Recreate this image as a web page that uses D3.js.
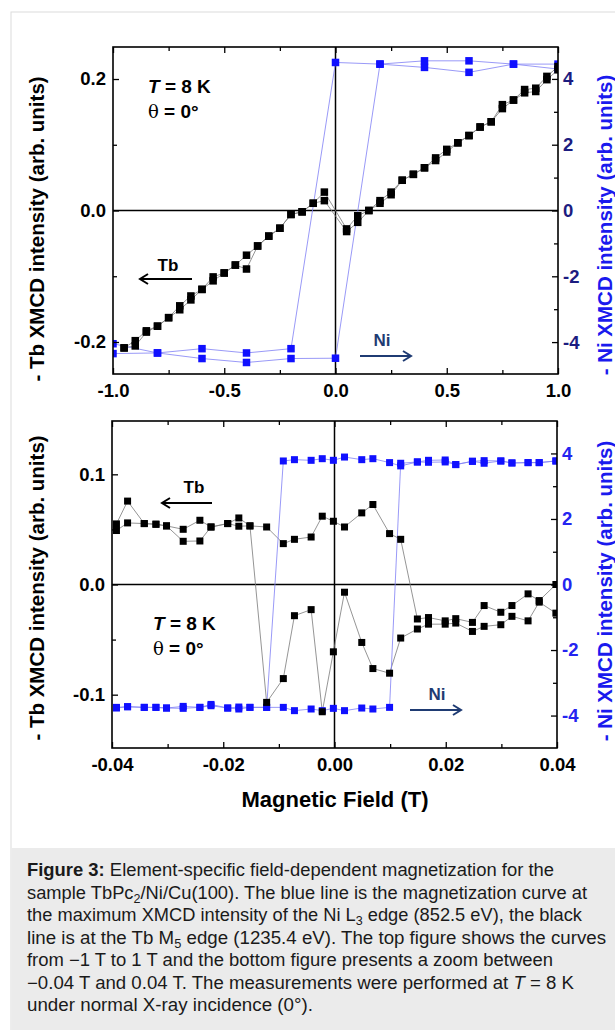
<!DOCTYPE html>
<html><head><meta charset="utf-8">
<script src="https://cdn.jsdelivr.net/npm/d3@7"></script>
<style>
body{margin:0;background:#fff;}
svg{display:block;font-family:"Liberation Sans",Arial,sans-serif;}
</style></head><body>
<svg id="c" width="615" height="1030"></svg>
<script>
// ---------- TOP PANEL DATA (field in T) ----------
const tbTopDownField = [1.0,0.95,0.9,0.85,0.8,0.75,0.7,0.65,0.6,0.55,0.5,0.45,0.4,0.35,0.3,0.25,0.2,0.15,0.1,0.05,-0.05,-0.1,-0.15,-0.2,-0.25,-0.3,-0.35,-0.4,-0.45,-0.5,-0.55,-0.6,-0.65,-0.7,-0.75,-0.8,-0.85,-0.9,-0.95];
const tbTopDown = [0.214,0.199,0.181,0.179,0.168,0.155,0.135,0.127,0.114,0.103,0.089,0.076,0.065,0.055,0.046,0.024,0.011,0.000,-0.008,-0.028,0.028,0.011,-0.002,-0.006,-0.027,-0.039,-0.054,-0.068,-0.083,-0.095,-0.101,-0.120,-0.130,-0.145,-0.163,-0.176,-0.183,-0.198,-0.209];
const tbTopUpField = [-0.95,-0.9,-0.85,-0.8,-0.75,-0.7,-0.65,-0.6,-0.55,-0.5,-0.45,-0.4,-0.35,-0.3,-0.25,-0.2,-0.15,-0.1,-0.05,0.05,0.1,0.15,0.2,0.25,0.3,0.35,0.4,0.45,0.5,0.55,0.6,0.65,0.7,0.75,0.8,0.85,0.9,0.95,1.0];
const tbTopUp = [-0.209,-0.206,-0.185,-0.176,-0.163,-0.151,-0.136,-0.120,-0.107,-0.095,-0.083,-0.089,-0.054,-0.039,-0.027,-0.006,-0.002,0.011,0.015,-0.032,-0.018,0.000,0.015,0.028,0.046,0.055,0.065,0.080,0.093,0.103,0.114,0.127,0.135,0.161,0.168,0.184,0.186,0.204,0.219];
const niTopDownField = [1.0,0.8,0.6,0.4,0.2,0.0,-0.2,-0.4,-0.6,-0.8,-1.0];
const niTopDown = [4.3,4.45,4.2,4.35,4.45,-4.49,-4.5,-4.62,-4.5,-4.33,-4.35];
const niTopUpField = [-1.0,-0.8,-0.6,-0.4,-0.2,0.0,0.2,0.4,0.6,0.8,1.0];
const niTopUp = [-4.05,-4.33,-4.2,-4.33,-4.2,4.5,4.45,4.55,4.55,4.45,4.45];

// ---------- BOTTOM PANEL DATA ----------
const botField = [-0.0392,-0.0372,-0.0342,-0.0321,-0.0302,-0.0272,-0.0242,-0.0222,-0.0192,-0.0172,-0.0152,-0.0122,-0.0092,-0.0072,-0.0042,-0.0022,-0.0002,0.0018,0.0049,0.0069,0.0099,0.0119,0.0149,0.0169,0.0199,0.0218,0.0248,0.0269,0.0299,0.0319,0.0348,0.0368,0.0398];
const tbBotUp = [0.049,0.0559,0.0553,0.0547,0.0532,0.0392,0.0395,0.0522,0.0553,0.0529,0.0532,0.0522,0.0371,0.041,0.0431,0.062,0.0574,0.0522,0.065,0.0726,0.0462,0.041,-0.0313,-0.030,-0.033,-0.031,-0.0344,-0.0191,-0.0252,-0.0191,-0.0085,-0.0146,0.0];
const tbBotDown = [0.055,0.0757,0.0553,0.0547,0.0532,0.0501,0.0583,0.0522,0.0553,0.0604,0.0532,-0.107,-0.0854,-0.0283,-0.0228,-0.1155,-0.0611,-0.007,-0.0526,-0.0763,-0.0805,-0.0486,-0.0404,-0.036,-0.036,-0.035,-0.0426,-0.038,-0.0365,-0.0289,-0.033,-0.016,-0.026];
const niBotUp = [-3.75,-3.73,-3.75,-3.75,-3.77,-3.72,-3.75,-3.66,-3.77,-3.74,-3.75,-3.75,3.77,3.81,3.79,3.84,3.79,3.89,3.81,3.84,3.72,3.62,3.74,3.79,3.80,3.66,3.76,3.78,3.77,3.71,3.72,3.72,3.77];
const niBotDown = [-3.77,-3.73,-3.75,-3.75,-3.77,-3.78,-3.75,-3.70,-3.77,-3.80,-3.75,-3.75,-3.75,-3.85,-3.80,-3.85,-3.78,-3.85,-3.77,-3.80,-3.75,3.70,3.74,3.73,3.74,3.66,3.76,3.70,3.77,3.71,3.72,3.72,3.77];

// ---------- TICKS ----------
const topXMajor = [-1,-0.5,0,0.5,1], topXLabels = ["-1.0","-0.5","0.0","0.5","1.0"], topXMinor = [-0.75,-0.25,0.25,0.75];
const topYLMajor = [-0.2,0,0.2], topYLLabels = ["-0.2","0.0","0.2"], topYLMinor = [-0.1,0.1];
const botXMajor = [-0.04,-0.02,0,0.02,0.04], botXLabels = ["-0.04","-0.02","0.00","0.02","0.04"], botXMinor = [-0.03,-0.01,0.01,0.03];
const botYLMajor = [-0.1,0,0.1], botYLLabels = ["-0.1","0.0","0.1"], botYLMinor = [-0.05,0.05];
const yRMajor = [-4,-2,0,2,4], yRLabels = ["-4","-2","0","2","4"], yRMinor = [-3,-1,1,3];

const captionLines = [
 [{t:"Figure 3:",b:1},{t:" Element-specific field-dependent magnetization for the"}],
 [{t:"sample TbPc"},{t:"2",sub:1},{t:"/Ni/Cu(100). The blue line is the magnetization curve at"}],
 [{t:"the maximum XMCD intensity of the Ni L"},{t:"3",sub:1},{t:" edge (852.5 eV), the black"}],
 [{t:"line is at the Tb M"},{t:"5",sub:1},{t:" edge (1235.4 eV). The top figure shows the curves"}],
 [{t:"from \u22121 T to 1 T and the bottom figure presents a zoom between"}],
 [{t:"\u22120.04 T and 0.04 T. The measurements were performed at "},{t:"T",i:1},{t:" = 8 K"}],
 [{t:"under normal X-ray incidence (0\u00b0)."}]
];
const captionWidths = [527, 560, 555, 579, 526, 547, 286];

const svg = d3.select("#c");
// page frame and caption box
svg.append("rect").attr("x",11).attr("y",12).attr("width",620).attr("height",1040).attr("fill","#fff").attr("stroke","#dcdcdc");
svg.append("rect").attr("x",11.5).attr("y",848).attr("width",604).attr("height",190).attr("fill","#ebebeb");

const pair = (xs, ys) => xs.map((x,i)=>[x, ys[i]]);

function panel(cfg){
  const g = svg.append("g");
  const x = d3.scaleLinear().domain(cfg.xDom).range([cfg.x0, cfg.x1]);
  const yL = d3.scaleLinear().domain(cfg.yLDom).range([cfg.y1, cfg.y0]);
  const yR = d3.scaleLinear().domain(cfg.yRDom).range([cfg.y1, cfg.y0]);
  const id = "clip"+cfg.name;
  svg.append("clipPath").attr("id",id).append("rect").attr("x",cfg.x0).attr("y",cfg.y0).attr("width",cfg.x1-cfg.x0).attr("height",cfg.y1-cfg.y0);

  // zero lines
  g.append("line").attr("x1",cfg.x0).attr("x2",cfg.x1).attr("y1",yL(0)).attr("y2",yL(0)).attr("stroke","#000").attr("stroke-width",1.5);
  g.append("line").attr("x1",x(0)).attr("x2",x(0)).attr("y1",cfg.y0).attr("y2",cfg.y1).attr("stroke","#000").attr("stroke-width",1.5);

  const data = g.append("g").attr("clip-path",`url(#${id})`);
  const lineL = d3.line().x(d=>x(d[0])).y(d=>yL(d[1]));
  const lineR = d3.line().x(d=>x(d[0])).y(d=>yR(d[1]));
  cfg.tb.forEach(s=>data.append("path").attr("d",lineL(s)).attr("fill","none").attr("stroke","#7a7a7a").attr("stroke-width",0.8));
  cfg.ni.forEach(s=>data.append("path").attr("d",lineR(s)).attr("fill","none").attr("stroke","#7f7ff5").attr("stroke-width",0.8));
  const ms = cfg.ms;
  cfg.ni.forEach(s=>data.selectAll(null).data(s).enter().append("rect")
    .attr("x",d=>x(d[0])-ms/2).attr("y",d=>yR(d[1])-ms/2).attr("width",ms).attr("height",ms).attr("fill","#1010ff"));
  cfg.tb.forEach(s=>data.selectAll(null).data(s).enter().append("rect")
    .attr("x",d=>x(d[0])-ms/2).attr("y",d=>yL(d[1])-ms/2).attr("width",ms).attr("height",ms).attr("fill","#000"));

  // axes
  const fs = "18.5px";
  const styleAx = (sel)=>{ sel.select(".domain").remove(); sel.selectAll("line").attr("stroke","#000").attr("stroke-width",1.3); sel.selectAll("text").attr("font-size",fs).attr("font-weight","bold").attr("font-family","'Liberation Sans',Arial,sans-serif"); };
  const bx = g.append("g").attr("transform",`translate(0,${cfg.y1})`)
    .call(d3.axisBottom(x).tickValues(cfg.xMajor).tickSize(-6).tickPadding(10).tickFormat((d,i)=>cfg.xLabels[i]));
  styleAx(bx); bx.selectAll("text").attr("fill","#000");
  const bxm = g.append("g").attr("transform",`translate(0,${cfg.y1})`).call(d3.axisBottom(x).tickValues(cfg.xMinor).tickSize(-4).tickFormat(""));
  styleAx(bxm);
  const tx = g.append("g").attr("transform",`translate(0,${cfg.y0})`).call(d3.axisTop(x).tickValues(cfg.xMajor).tickSize(-6).tickFormat(""));
  styleAx(tx);
  const txm = g.append("g").attr("transform",`translate(0,${cfg.y0})`).call(d3.axisTop(x).tickValues(cfg.xMinor).tickSize(-4).tickFormat(""));
  styleAx(txm);
  const ly = g.append("g").attr("transform",`translate(${cfg.x0},0)`)
    .call(d3.axisLeft(yL).tickValues(cfg.yLMajor).tickSize(-6).tickPadding(7).tickFormat((d,i)=>cfg.yLLabels[i]));
  styleAx(ly); ly.selectAll("text").attr("fill","#000");
  const lym = g.append("g").attr("transform",`translate(${cfg.x0},0)`).call(d3.axisLeft(yL).tickValues(cfg.yLMinor).tickSize(-4).tickFormat(""));
  styleAx(lym);
  const ry = g.append("g").attr("transform",`translate(${cfg.x1},0)`)
    .call(d3.axisRight(yR).tickValues(yRMajor).tickSize(-6).tickPadding(5).tickFormat((d,i)=>yRLabels[i]));
  styleAx(ry); ry.selectAll("text").attr("fill",cfg.rColor);
  const rym = g.append("g").attr("transform",`translate(${cfg.x1},0)`).call(d3.axisRight(yR).tickValues(yRMinor).tickSize(-4).tickFormat(""));
  styleAx(rym);

  // frame
  g.append("rect").attr("x",cfg.x0).attr("y",cfg.y0).attr("width",cfg.x1-cfg.x0).attr("height",cfg.y1-cfg.y0).attr("fill","none").attr("stroke","#000").attr("stroke-width",1.6);

  // axis titles
  g.append("text").attr("transform",`translate(43.5,${cfg.tLy}) rotate(-90)`).attr("text-anchor","middle")
    .attr("font-size","20.5px").attr("font-weight","bold").attr("fill","#000").text("- Tb XMCD intensity (arb. units)");
  g.append("text").attr("transform",`translate(612,${cfg.tRy}) rotate(-90)`).attr("text-anchor","middle")
    .attr("font-size","20.5px").attr("font-weight","bold").attr("fill","#1a1aee").text("- Ni XMCD intensity (arb. units)");

  // annotations
  const t1 = g.append("text").attr("x",cfg.tx).attr("y",cfg.ty).attr("font-size","19px").attr("font-weight","bold").attr("fill","#000");
  t1.append("tspan").attr("font-style","italic").text("T");
  t1.append("tspan").text(" = 8 K");
  const t2 = g.append("text").attr("x",cfg.tx).attr("y",cfg.ty+25).attr("font-size","19px").attr("fill","#000");
  t2.append("tspan").attr("font-family","'DejaVu Serif',serif").attr("font-size","18px").text("\u03b8");
  t2.append("tspan").attr("font-weight","bold").text(" = 0\u00b0");

  // Tb arrow (left)
  const a = cfg.tbArrow;
  g.append("text").attr("x",a.lx).attr("y",a.ly).attr("text-anchor","middle").attr("font-size","17px").attr("font-weight","bold").attr("fill","#000").text("Tb");
  g.append("line").attr("x1",a.x1).attr("x2",a.x0+1).attr("y1",a.y).attr("y2",a.y).attr("stroke","#000").attr("stroke-width",2);
  g.append("path").attr("d",`M${a.x0+8},${a.y-5}L${a.x0},${a.y}L${a.x0+8},${a.y+5}`).attr("fill","none").attr("stroke","#000").attr("stroke-width",2);
  const n = cfg.niArrow;
  g.append("text").attr("x",n.lx).attr("y",n.ly).attr("text-anchor","middle").attr("font-size","17px").attr("font-weight","bold").attr("fill","#1f3b73").text("Ni");
  g.append("line").attr("x1",n.x0).attr("x2",n.x1-1).attr("y1",n.y).attr("y2",n.y).attr("stroke","#1f3b73").attr("stroke-width",2);
  g.append("path").attr("d",`M${n.x1-8},${n.y-5}L${n.x1},${n.y}L${n.x1-8},${n.y+5}`).attr("fill","none").attr("stroke","#1f3b73").attr("stroke-width",2);
}

panel({name:"top", xDom:[-1,1], yLDom:[-0.2487,0.2487], yRDom:[-4.97,4.97], x0:113, x1:558, y0:47, y1:374, ms:7.5,
  tb:[pair(tbTopDownField,tbTopDown), pair(tbTopUpField,tbTopUp)],
  ni:[pair(niTopDownField,niTopDown), pair(niTopUpField,niTopUp)],
  xMajor:topXMajor, xLabels:topXLabels, xMinor:topXMinor, yLMajor:topYLMajor, yLLabels:topYLLabels, yLMinor:topYLMinor,
  rColor:"#1c1c80", tLy:229, tRy:225, tx:148, ty:93,
  tbArrow:{lx:168, ly:271, x0:140, x1:192, y:279}, niArrow:{lx:382, ly:346, x0:360, x1:411, y:356}});

panel({name:"bot", xDom:[-0.04,0.04], yLDom:[-0.1484,0.1484], yRDom:[-4.99,4.99], x0:112, x1:557, y0:421, y1:748, ms:7,
  tb:[pair(botField,tbBotUp), pair(botField,tbBotDown).reverse()],
  ni:[pair(botField,niBotUp), pair(botField,niBotDown).reverse()],
  xMajor:botXMajor, xLabels:botXLabels, xMinor:botXMinor, yLMajor:botYLMajor, yLLabels:botYLLabels, yLMinor:botYLMinor,
  rColor:"#2424f0", tLy:588, tRy:591, tx:153, ty:630,
  tbArrow:{lx:194, ly:493, x0:162, x1:212, y:503}, niArrow:{lx:437, ly:700, x0:410, x1:461, y:710}});

svg.append("text").attr("x",335).attr("y",807).attr("text-anchor","middle").attr("font-size","22px").attr("font-weight","bold").attr("fill","#000").text("Magnetic Field (T)");

// caption
captionLines.forEach((line,i)=>{
  const t = svg.append("text").attr("x",27).attr("y",876+i*22.5).attr("font-size","17.5px").attr("fill","#1a1a1a")
    .attr("textLength",captionWidths[i]).attr("lengthAdjust","spacingAndGlyphs");
  line.forEach(s=>{
    const ts = t.append("tspan").text(s.t);
    if(s.b) ts.attr("font-weight","bold");
    if(s.i) ts.attr("font-style","italic");
    if(s.sub) { ts.attr("font-size","12px").attr("dy",4); }
    else if (ts.node().previousSibling && ts.node().previousSibling.getAttribute("dy")==="4") ts.attr("dy",-4);
  });
});
</script>
</body></html>
